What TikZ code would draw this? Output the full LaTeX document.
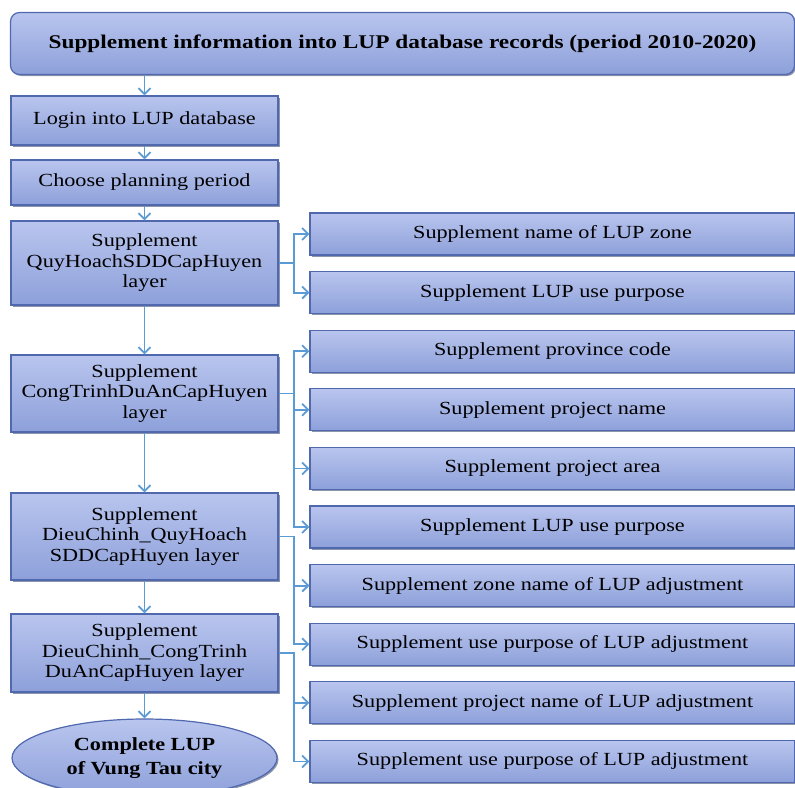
\documentclass[tikz,border=0pt]{standalone}
\usepackage{fontspec}
\setmainfont{Liberation Serif}[FakeStretch=1.2]
\usepackage{tikz}
\usetikzlibrary{positioning,chains,shapes.geometric,arrows.meta,shadows}
\definecolor{boxtop}{HTML}{B9C5EE}
\definecolor{boxbot}{HTML}{8DA0DA}
\definecolor{boxline}{HTML}{4F68AE}
\definecolor{linkblue}{HTML}{5B9BD5}

\begin{document}
\begin{tikzpicture}[
	x=1pt, y=-1pt,
	box/.style={
		rectangle, draw=boxline, line width=1.2pt,
		top color=boxtop, bottom color=boxbot,
		drop shadow={shadow xshift=1.5pt, shadow yshift=-1.5pt, fill=boxline!60!black, opacity=.55},
		text=black, align=center, inner sep=1pt,
		font=\fontsize{18.5}{20.5}\selectfont
	},
	topbox/.style={box, rounded corners=9pt, minimum width=784pt, minimum height=62pt,
		font=\fontsize{19.4}{21}\selectfont\bfseries},
	leftbox/.style={box, minimum width=267pt},
	rightbox/.style={box, minimum width=485pt, minimum height=42pt, on chain},
	endnode/.style={box, ellipse, minimum width=265pt, minimum height=78pt, inner sep=0pt,
		font=\fontsize{18.5}{24}\selectfont\bfseries},
	link/.style={draw=linkblue, line width=1.8pt, -{Straight Barb[length=6pt,width=12pt]}},
	start chain=going below, node distance=15.4pt
	]
	\useasboundingbox (0,0) rectangle (795,787);
	% main column
	\node[topbox] (top) at (402.5,43.5) {Supplement information into LUP database records (period 2010-2020)};
	\node[leftbox, minimum height=49pt] (login) at (144.5,120.5) {Login into LUP database};
	\node[leftbox, minimum height=45pt] (choose) at (144.5,182.5) {Choose planning period};
	\node[leftbox, minimum height=84pt] (quy) at (144.5,263) {Supplement\\QuyHoachSDDCapHuyen\\layer};
	\node[leftbox, minimum height=77pt] (cong) at (144.5,393.5) {Supplement\\CongTrinhDuAnCapHuyen\\layer};
	\node[leftbox, minimum height=87pt] (dieuq) at (144.5,536.5) {Supplement\\DieuChinh\_QuyHoach\\SDDCapHuyen layer};
	\node[leftbox, minimum height=78pt] (dieuc) at (144.5,653) {Supplement\\DieuChinh\_CongTrinh\\DuAnCapHuyen layer};
	\node[endnode] (final) at (144.5,758) {Complete LUP\\of Vung Tau city};
	% attribute boxes
	\node[rightbox] (r1) at (552.5,234) {Supplement name of LUP zone};
	\node[rightbox] (r2) {Supplement LUP use purpose};
	\node[rightbox] (r3) {Supplement province code};
	\node[rightbox] (r4) {Supplement project name};
	\node[rightbox] (r5) {Supplement project area};
	\node[rightbox] (r6) {Supplement LUP use purpose};
	\node[rightbox] (r7) {Supplement zone name of LUP adjustment};
	\node[rightbox] (r8) {Supplement use purpose of LUP adjustment};
	\node[rightbox] (r9) {Supplement project name of LUP adjustment};
	\node[rightbox] (r10) {Supplement use purpose of LUP adjustment};
	% links
	\draw[link] (top.south -| login.north) -- (login.north);
	\foreach \a/\b in {login/choose, choose/quy, quy/cong, cong/dieuq, dieuq/dieuc, dieuc/final}
	{
		\draw[link] (\a.south) -- (\b.north);
	}
	\foreach \s/\t in {quy/r1, quy/r2, cong/r3, cong/r4, cong/r5, cong/r6, dieuq/r7, dieuq/r8, dieuc/r9, dieuc/r10}
	{
		\draw[link] (\s.east) -- ++(15,0) |- (\t.west);
	}
\end{tikzpicture}
\end{document}
